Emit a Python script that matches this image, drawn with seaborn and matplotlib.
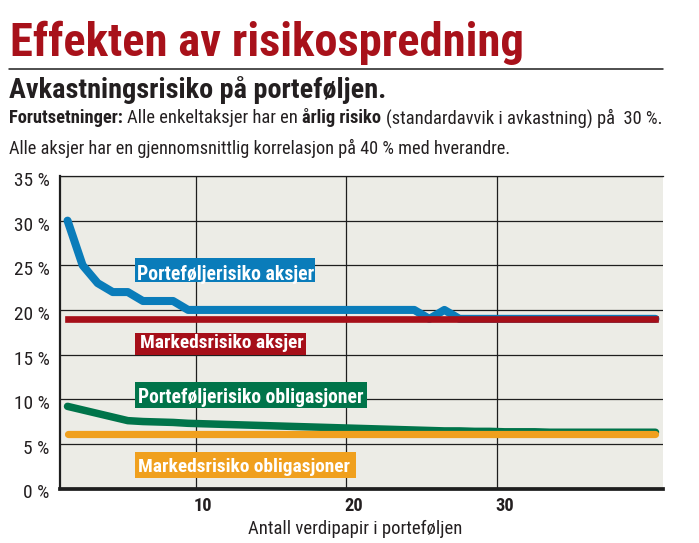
import os
import matplotlib
matplotlib.use("Agg")
import matplotlib.pyplot as plt
import seaborn as sns
import pandas as pd
from matplotlib import font_manager as fm
from matplotlib.patches import Rectangle
from matplotlib.lines import Line2D
from matplotlib.transforms import ScaledTranslation

# ---------------- data ----------------
antall = list(range(1, 41))
portefolje_aksjer = [30, 25, 23, 22, 22, 21, 21, 21,
                     20, 20, 20, 20, 20, 20, 20, 20, 20, 20, 20, 20, 20, 20, 20, 20,
                     19, 20,
                     19, 19, 19, 19, 19, 19, 19, 19, 19, 19, 19, 19, 19, 19]
markeds_aksjer = [19] * 40
portefolje_oblig = [9.2, 8.8, 8.4, 8.0, 7.6, 7.5, 7.45, 7.4, 7.3, 7.25,
                    7.2, 7.15, 7.1, 7.05, 7.0, 6.95, 6.9, 6.85, 6.8, 6.75,
                    6.7, 6.65, 6.6, 6.55, 6.5, 6.45, 6.45, 6.4, 6.4, 6.35,
                    6.35, 6.35, 6.3, 6.3, 6.3, 6.3, 6.3, 6.3, 6.3, 6.3]
markeds_oblig = [6.15] * 40
y_ticks = [0, 5, 10, 15, 20, 25, 30, 35]
y_labels = ["0 %", "5 %", "10 %", "15 %", "20 %", "25 %", "30 %", "35 %"]
x_ticks = [10, 20, 30]
x_labels = ["10", "20", "30"]

title = "Effekten av risikospredning"
subtitle = "Avkastningsrisiko på porteføljen."
line2 = [("Forutsetninger:", "b"), ("Alle enkeltaksjer har en", "r"),
         ("årlig risiko", "b"), ("(standardavvik i avkastning) på  30 %.", "r")]
line3 = "Alle aksjer har en gjennomsnittlig korrelasjon på 40 % med hverandre."
xlabel = "Antall verdipapir i porteføljen"
lbl_pa = "Porteføljerisiko aksjer"
lbl_ma = "Markedsrisiko aksjer"
lbl_po = "Porteføljerisiko obligasjoner"
lbl_mo = "Markedsrisiko obligasjoner"

C_BLUE = "#0a7cba"
C_RED = "#a60f19"
C_GREEN = "#00744a"
C_ORANGE = "#f0a01e"
C_BG = "#ecece6"
C_TXT = "#231f20"
C_GRID = "#1e1e1e"

# ---------------- fonts ----------------
sns.set_style("white")
_files = sorted({e.fname for e in fm.fontManager.ttflist})


def find_font(patterns, fallback_weight):
    for p in patterns:
        for f in _files:
            if os.path.basename(f).lower() == p.lower():
                return fm.FontProperties(fname=f)
    return fm.FontProperties(family="DejaVu Sans", weight=fallback_weight)


FP_REG = find_font(["NotoSans-ExtraCondensed.ttf", "RobotoCondensed-Regular.ttf",
                    "NotoSans-Condensed.ttf", "LiberationSansNarrow-Regular.ttf",
                    "DejaVuSansCondensed.ttf"], "normal")
FP_BOLD = find_font(["NotoSans-ExtraCondensedBold.ttf", "RobotoCondensed-Bold.ttf",
                     "NotoSans-CondensedBold.ttf", "LiberationSansNarrow-Bold.ttf",
                     "DejaVuSansCondensed-Bold.ttf"], "bold")
FP_SUB = find_font(["NotoSans-SemiCondensedBold.ttf", "NotoSans-CondensedBold.ttf",
                    "RobotoCondensed-Bold.ttf", "LiberationSansNarrow-Bold.ttf",
                    "DejaVuSansCondensed-Bold.ttf", "NotoSans-Bold.ttf"], "bold")

# ---------------- figure ----------------
W, H, DPI = 699, 543, 100
fig = plt.figure(figsize=(W / DPI, H / DPI), dpi=DPI)
fig.patch.set_facecolor("white")
ax = fig.add_axes([60 / W, 1 - 488.5 / H, 603 / W, 312.5 / H])
renderer = fig.canvas.get_renderer()


def width_of(s, fp, size):
    t = fig.text(0, 0, s, fontproperties=fp, fontsize=size)
    w = t.get_window_extent(renderer).width
    t.remove()
    return w


def fit(s, fp, target_w, base=20.0, cap=None):
    sz = base * target_w / width_of(s, fp, base)
    if cap is not None:
        sz = min(sz, cap)
    return sz


# ---------------- lines ----------------
df = pd.DataFrame({"antall": antall, "pa": portefolje_aksjer, "ma": markeds_aksjer,
                   "po": portefolje_oblig, "mo": markeds_oblig})
sns.lineplot(data=df, x="antall", y="pa", ax=ax, color=C_BLUE, linewidth=5.8,
             solid_capstyle="round", solid_joinstyle="round", zorder=3)
sns.lineplot(data=df, x="antall", y="ma", ax=ax, color=C_RED, linewidth=4.8,
             solid_capstyle="projecting", zorder=4)
sns.lineplot(data=df, x="antall", y="po", ax=ax, color=C_GREEN, linewidth=5.4,
             solid_capstyle="round", solid_joinstyle="round", zorder=3)
sns.lineplot(data=df, x="antall", y="mo", ax=ax, color=C_ORANGE, linewidth=5.2,
             solid_capstyle="round", zorder=4)

# ---------------- axes styling ----------------
ax.set_facecolor(C_BG)
ax.set_xlim(0.5, 40.5)
ax.set_ylim(0, 35)
ax.set_xlabel("")
ax.set_ylabel("")
ax.set_yticks(y_ticks)
ax.set_xticks(x_ticks)
ax.set_xticks([9.5, 19.5, 29.5], minor=True)
ax.set_axisbelow(True)
ax.grid(False)
ax.yaxis.grid(True, which="major", color=C_GRID, linewidth=0.9)
ax.xaxis.grid(True, which="minor", color=C_GRID, linewidth=0.9)
ax.tick_params(axis="both", which="both", length=0)
ax.tick_params(axis="y", pad=7.5)
ax.tick_params(axis="x", pad=6.0)
ax.spines["right"].set_visible(False)
ax.spines["top"].set_color(C_GRID)
ax.spines["top"].set_linewidth(0.9)
ax.spines["left"].set_color(C_GRID)
ax.spines["left"].set_linewidth(1.6)
ax.spines["bottom"].set_color(C_GRID)
ax.spines["bottom"].set_linewidth(2.7)

ysz = fit("30 %", FP_REG, 36, cap=15)
ax.set_yticklabels(y_labels)
for lab in ax.get_yticklabels():
    lab.set_fontproperties(FP_REG)
    lab.set_fontsize(ysz)
    lab.set_color(C_TXT)
    lab.set_transform(lab.get_transform() + ScaledTranslation(0, -3 / DPI, fig.dpi_scale_trans))
xsz = fit("10", FP_BOLD, 18.5, cap=15)
ax.set_xticklabels(x_labels)
for lab in ax.get_xticklabels():
    lab.set_fontproperties(FP_BOLD)
    lab.set_fontsize(xsz)
    lab.set_color(C_TXT)

# ---------------- label boxes (data coords) ----------------
boxes = [
    (lbl_pa, C_BLUE, 5.475, 17.415, 23.13, 25.81, 5.61, 23.37, 176),
    (lbl_ma, C_RED, 5.475, 16.82, 14.95, 17.41, 5.81, 15.74, 163),
    (lbl_po, C_GREEN, 5.475, 20.84, 8.98, 11.89, 5.69, 9.55, 224),
    (lbl_mo, C_ORANGE, 5.475, 20.11, 1.14, 4.12, 5.67, 1.82, 212),
]
for text, col, x0, x1, y0, y1, tx, ty, tw in boxes:
    ax.add_patch(Rectangle((x0, y0), x1 - x0, y1 - y0, facecolor=col,
                           edgecolor="none", zorder=6))
    sz = fit(text, FP_BOLD, tw, cap=16)
    ax.text(tx, ty, text, fontproperties=FP_BOLD, fontsize=sz, color="white",
            ha="left", va="baseline", zorder=7)

# ---------------- header texts ----------------
def fx(x):
    return x / W


def fy(y):
    return 1 - y / H


tsz = fit(title, FP_BOLD, 512)
fig.text(fx(10), fy(56), title, fontproperties=FP_BOLD, fontsize=tsz,
         color="#a8111a", ha="left", va="baseline")
fig.add_artist(Line2D([fx(9), fx(663)], [fy(69.3), fy(69.3)], color=C_GRID, linewidth=1.1))

ssz = fit(subtitle, FP_SUB, 376)
fig.text(fx(9), fy(97.7), subtitle, fontproperties=FP_SUB, fontsize=ssz,
         color=C_TXT, ha="left", va="baseline")

# mixed line 2
base = 20.0
fps = {"r": FP_REG, "b": FP_BOLD}
gap_base = width_of("a a", FP_REG, base) - width_of("aa", FP_REG, base)
total = sum(width_of(s, fps[k], base) for s, k in line2) + gap_base * (len(line2) - 1)
l2sz = base * (662 - 9) / total
gap = gap_base * l2sz / base
cur = 9.0
for s, k in line2:
    t = fig.text(fx(cur), fy(123.3), s, fontproperties=fps[k], fontsize=l2sz,
                 color=C_TXT, ha="left", va="baseline")
    cur += t.get_window_extent(renderer).width + gap

l3sz = fit(line3, FP_REG, 501)
fig.text(fx(9), fy(154), line3, fontproperties=FP_REG, fontsize=l3sz,
         color=C_TXT, ha="left", va="baseline")

xlsz = fit(xlabel, FP_REG, 213)
fig.text(fx(355.5), fy(534), xlabel, fontproperties=FP_REG, fontsize=xlsz,
         color=C_TXT, ha="center", va="baseline")

fig.savefig("out.png", dpi=DPI, facecolor="white")
